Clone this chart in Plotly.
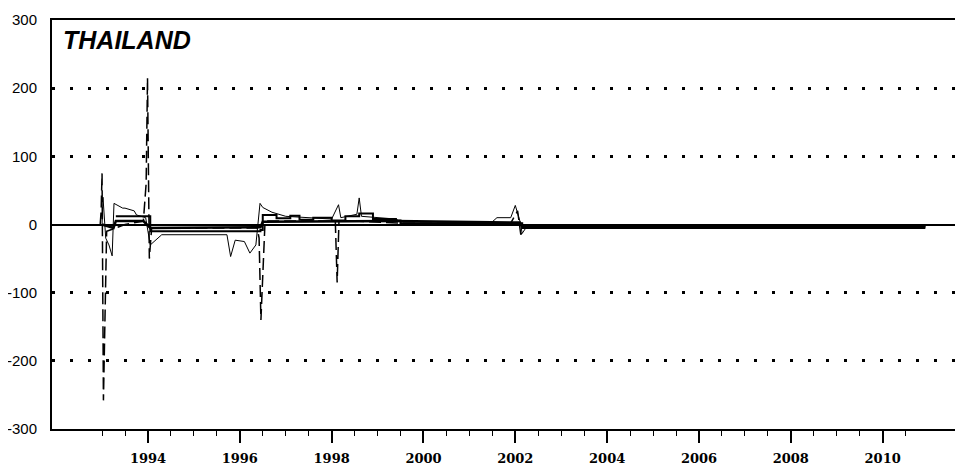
import plotly.graph_objects as go

# ---- data (decimal years) ----
dash_years = [1992.96, 1992.98, 1993.00, 1993.03, 1993.10, 1993.50, 1993.90, 1993.96, 1993.99,
              1994.03, 1994.08, 1995.00, 1996.00, 1996.38, 1996.42, 1996.46, 1996.55, 1997.50,
              1998.08, 1998.12, 1998.16, 1998.50, 1999.50, 2001.90, 2002.05, 2002.12, 2002.20, 2010.93]
dash_vals = [0, 20, 75, -258, -10, 0, 5, 60, 215,
             -50, -5, -5, -5, -5, -20, -140, 5, 5,
             5, -85, 5, 5, 2, 2, 20, -15, -3, -3]

solid_years = [1993.00, 1993.25, 1993.30, 1993.90, 1994.05, 1995.70, 1996.45, 1996.50,
               1999.40, 2001.90, 2002.10, 2002.15, 2010.93]
solid_vals = [0, -5, 5, 5, -5, -5, -4, 4, 5, 3, 3, -3, -3]

thin_years = [1993.00, 1993.02, 1993.08, 1993.15, 1993.22, 1993.24, 1993.26, 1993.45, 1993.50,
              1993.70, 1993.75, 1993.95, 1994.05, 1994.30, 1995.00, 1995.50, 1995.72, 1995.80,
              1995.90, 1996.10, 1996.22, 1996.35, 1996.44, 1996.50, 1996.70, 1997.00, 1997.50,
              1998.00, 1998.15, 1998.20, 1998.55, 1998.60, 1998.65, 1999.00, 1999.40, 1999.50,
              2001.50, 2001.60, 2001.90, 2002.00, 2002.10, 2002.15, 2002.25, 2010.93]
thin_vals = [0, 40, -20, -30, -46, 0, 31, 24, 24,
             20, 14, 10, -30, -15, -15, -16, -15, -47,
             -23, -25, -42, -30, 31, 25, 18, 12, 10,
             8, 29, 10, 15, 39, 12, 10, 8, 4,
             4, 10, 10, 28, 5, -13, -3, -3]

med_years = [1993.30, 1993.90, 1994.05, 1995.70, 1996.45, 1996.50, 1996.80, 1997.10, 1997.30,
             1997.60, 1998.00, 1998.30, 1998.60, 1998.90, 1999.40, 1999.50, 2002.10, 2002.15, 2010.93]
med_vals = [12, 12, -10, -10, -8, 14, 9, 13, 7, 10, 6, 12, 16, 8, 6, 2, 2, -5, -5]

x_tick_vals = [1994, 1996, 1998, 2000, 2002, 2004, 2006, 2008, 2010]
x_tick_text = ["1994", "1996", "1998", "2000", "2002", "2004", "2006", "2008", "2010"]
x_minor_vals = [1993 + 0.5 * i for i in range(36)]
y_tick_vals = [-300, -200, -100, 0, 100, 200, 300]
y_tick_text = ["-300", "-200", "-100", "0", "100", "200", "300"]

fig = go.Figure()
fig.add_trace(go.Scatter(x=med_years, y=med_vals, mode="lines",
                         line=dict(color="black", width=2, shape="hv")))
fig.add_trace(go.Scatter(x=solid_years, y=solid_vals, mode="lines",
                         line=dict(color="black", width=2.5)))
fig.add_trace(go.Scatter(x=thin_years, y=thin_vals, mode="lines",
                         line=dict(color="black", width=1)))
fig.add_trace(go.Scatter(x=dash_years, y=dash_vals, mode="lines",
                         line=dict(color="black", width=1.5, dash="12px,5px")))

# the page body has an 8px margin, so the figure is sized to fit the 963x468 window
fig.update_layout(
    width=955, height=460,
    margin=dict(l=44, r=0, t=12, b=39, autoexpand=False),
    paper_bgcolor="white", plot_bgcolor="white",
    showlegend=False,
    xaxis=dict(
        range=[1991.91, 2011.75], automargin=False,
        showgrid=False, zeroline=False,
        showline=True, linecolor="black", linewidth=2, mirror=True,
        tickmode="array", tickvals=x_tick_vals, ticktext=x_tick_text,
        ticks="outside", ticklen=12, tickwidth=2, tickcolor="black",
        ticklabelstandoff=4,
        tickfont=dict(family="DejaVu Serif", size=13, color="black", weight="bold"),
        minor=dict(tickmode="array", tickvals=x_minor_vals, ticks="outside",
                   ticklen=5, tickwidth=1, tickcolor="black", showgrid=False),
    ),
    yaxis=dict(
        range=[-300, 300], automargin=False,
        tickmode="array", tickvals=y_tick_vals, ticktext=y_tick_text,
        showgrid=True, gridcolor="black", gridwidth=3, griddash="3px,15px",
        zeroline=True, zerolinecolor="black", zerolinewidth=2,
        showline=True, linecolor="black", linewidth=2,
        ticks="", ticklabelstandoff=10,
        tickfont=dict(family="Liberation Sans", size=15, color="black"),
    ),
    annotations=[dict(
        text="THAILAND", xref="paper", yref="paper", x=0.01, y=0.95,
        xanchor="left", yanchor="middle", showarrow=False,
        font=dict(family="Liberation Sans", size=25,
                  color="black", weight="bold", style="italic"),
    )],
)

fig.write_html("out.html")
